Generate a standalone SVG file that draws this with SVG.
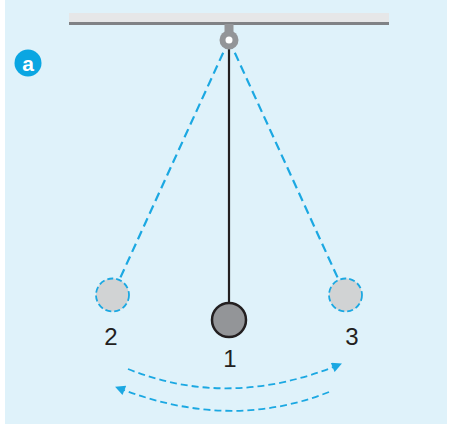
<svg xmlns="http://www.w3.org/2000/svg" width="449" height="426" viewBox="0 0 449 426">
<defs>
<style>
.dash{fill:none;stroke:#1ba8e2;stroke-width:2.2;stroke-dasharray:9 5}
.arc{fill:none;stroke:#1ba8e2;stroke-width:1.8;stroke-dasharray:7 4}
.ghost{fill:#d1d3d4;stroke:#1ba8e2;stroke-width:1.8;stroke-dasharray:6 3}
.lbl{font-family:"Liberation Sans",Arial,sans-serif;font-size:24px;fill:#231f20;text-anchor:middle}
</style>
<marker id="ah2" viewBox="0 0 10 10" refX="9" refY="5" markerWidth="12" markerHeight="10" orient="auto" markerUnits="userSpaceOnUse">
<path d="M0,0 L10,5 L0,10 z" fill="#1ba8e2"/>
</marker>
</defs>
<rect x="0" y="0" width="449" height="426" fill="#ffffff"/>
<rect x="5" y="0" width="442" height="424" fill="#dff2fa"/>
<g id="ceiling">
<rect x="69" y="13" width="320" height="9" fill="#e6e7e8"/>
<rect x="69" y="22" width="320" height="3" fill="#808285"/>
</g>
<g id="connectors">
<line x1="229" y1="40" x2="119.5" y2="279.5" class="dash"/>
<line x1="229" y1="40" x2="338.5" y2="279.5" class="dash"/>
<path d="M128,369 Q230,410 341,364" class="arc" marker-end="url(#ah2)"/>
<path d="M329,392 Q228,432 116,387" class="arc" marker-end="url(#ah2)"/>
</g>
<g id="rod">
<line x1="229" y1="43" x2="229" y2="303" stroke="#231f20" stroke-width="2.2"/>
</g>
<g id="pivot">
<rect x="224.5" y="24" width="9" height="10" fill="#939598"/>
<circle cx="229" cy="40" r="9.5" fill="#939598"/>
<circle cx="229" cy="40" r="3.5" fill="#ffffff"/>
</g>
<g id="bob2">
<circle cx="112.5" cy="295" r="16.5" class="ghost"/>
<text x="111" y="345" class="lbl">2</text>
</g>
<g id="bob1">
<circle cx="229" cy="320" r="17" fill="#939598" stroke="#231f20" stroke-width="2.5"/>
<text x="230" y="367" class="lbl">1</text>
</g>
<g id="bob3">
<circle cx="345.5" cy="295" r="16.5" class="ghost"/>
<text x="352" y="345" class="lbl">3</text>
</g>
<g id="badge">
<circle cx="28" cy="63" r="13.5" fill="#0aa6e2"/>
<text x="28" y="70.5" font-family="Liberation Sans,Arial,sans-serif" font-weight="bold" font-size="21" fill="#ffffff" text-anchor="middle">a</text>
</g>
</svg>
